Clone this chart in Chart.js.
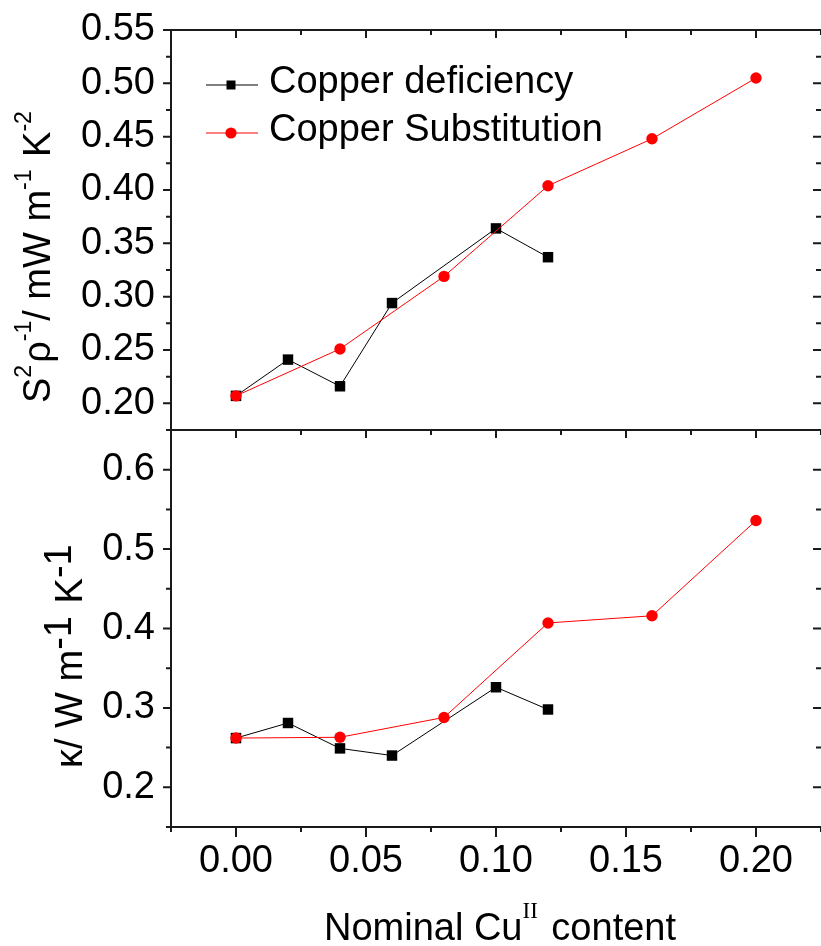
<!DOCTYPE html>
<html><head><meta charset="utf-8">
<script src="https://cdn.jsdelivr.net/npm/chart.js@4.4.1/dist/chart.umd.min.js"></script>
<style>html,body{margin:0;padding:0;background:#fff;overflow:hidden}#wrap{width:821px;height:946px;position:relative}</style>
</head><body><div id="wrap"><canvas id="c" width="821" height="946"></canvas></div>
<script>
const seriesNames = ['Copper deficiency', 'Copper Substitution'];
const deficiencyContent = [0.00, 0.02, 0.04, 0.06, 0.10, 0.12];
const substitutionContent = [0.00, 0.04, 0.08, 0.12, 0.16, 0.20];
const deficiencyPowerFactor = [0.207, 0.241, 0.216, 0.294, 0.364, 0.337];
const substitutionPowerFactor = [0.207, 0.251, 0.319, 0.404, 0.448, 0.505];
const deficiencyKappa = [0.262, 0.281, 0.249, 0.240, 0.326, 0.298];
const substitutionKappa = [0.262, 0.263, 0.288, 0.407, 0.416, 0.536];
const xTickValues = [0.00, 0.05, 0.10, 0.15, 0.20];
const pfTickValues = [0.20, 0.25, 0.30, 0.35, 0.40, 0.45, 0.50, 0.55];
const kappaTickValues = [0.2, 0.3, 0.4, 0.5, 0.6];

const FONT = '"Liberation Sans", Arial, sans-serif';
const SERIF = '"Liberation Serif", "Times New Roman", serif';
const pts = (xs, ys) => xs.map((x, i) => ({x, y: ys[i]}));

const blackStyle = {borderColor:'#000', backgroundColor:'#000', pointStyle:'rect', pointRadius:7.4, pointBorderWidth:0, borderWidth:1, order:2};
const redStyle = {borderColor:'#ff0000', backgroundColor:'#ff0000', pointStyle:'circle', pointRadius:5.7, pointBorderWidth:0, borderWidth:1, order:1};

function minorValues(arr, min, max) {
  const step = arr[1] - arr[0];
  const out = [];
  for (let v = arr[0] - step / 2; v <= arr[arr.length - 1] + step / 2 + 1e-9; v += step) {
    if (v >= min - 1e-9 && v <= max + 1e-9) out.push(v);
  }
  return out;
}

function drawRich(ctx, parts, size) {
  let x = 0;
  for (const p of parts) {
    const fs = p.size || size;
    ctx.font = fs + 'px ' + (p.serif ? SERIF : FONT);
    ctx.fillText(p.t, x, -(p.raise || 0));
    x += ctx.measureText(p.t).width + (p.gap || 0);
  }
  return x;
}
function richWidth(ctx, parts, size) {
  let w = 0;
  for (const p of parts) {
    const fs = p.size || size;
    ctx.font = fs + 'px ' + (p.serif ? SERIF : FONT);
    w += ctx.measureText(p.t).width + (p.gap || 0);
  }
  return w;
}

const decorPlugin = {
  id: 'decor',
  afterDraw(chart) {
    const {ctx, chartArea: ca, scales} = chart;
    const xs = scales.x, yt = scales.yTop, yb = scales.yBot;
    ctx.save();
    ctx.strokeStyle = '#1a1a1a';
    ctx.lineWidth = 2;
    ctx.lineCap = 'butt';
    ctx.beginPath();
    ctx.moveTo(ca.left, ca.top); ctx.lineTo(ca.right + 2, ca.top);
    ctx.moveTo(ca.left, yt.bottom); ctx.lineTo(ca.right + 2, yt.bottom);
    ctx.moveTo(ca.left, ca.top - 1); ctx.lineTo(ca.left, ca.bottom + 1);
    ctx.moveTo(ca.left - 1, ca.bottom); ctx.lineTo(ca.right + 2, ca.bottom);
    ctx.moveTo(ca.right + 1, ca.top); ctx.lineTo(ca.right + 1, ca.bottom);
    ctx.stroke();

    const xMaj = xTickValues, xMin = minorValues(xTickValues, xs.min, xs.max);
    ctx.beginPath();
    for (const v of xMaj) {
      const px = xs.getPixelForValue(v);
      ctx.moveTo(px, ca.top); ctx.lineTo(px, ca.top + 8);
      ctx.moveTo(px, yt.bottom); ctx.lineTo(px, yt.bottom + 8);
      ctx.moveTo(px, ca.bottom); ctx.lineTo(px, ca.bottom + 10);
    }
    for (const v of xMin) {
      const px = xs.getPixelForValue(v);
      ctx.moveTo(px, ca.top); ctx.lineTo(px, ca.top + 5);
      ctx.moveTo(px, yt.bottom); ctx.lineTo(px, yt.bottom + 5);
      ctx.moveTo(px, ca.bottom); ctx.lineTo(px, ca.bottom + 5);
    }
    const panels = [[yt, pfTickValues], [yb, kappaTickValues]];
    for (const [sc, maj] of panels) {
      for (const v of maj) {
        const py = sc.getPixelForValue(v);
        ctx.moveTo(ca.left - 8, py); ctx.lineTo(ca.left, py);
        ctx.moveTo(ca.right - 8, py); ctx.lineTo(ca.right, py);
      }
      for (const v of minorValues(maj, sc.min, sc.max)) {
        const py = sc.getPixelForValue(v);
        ctx.moveTo(ca.left - 5, py); ctx.lineTo(ca.left, py);
        ctx.moveTo(ca.right - 5, py); ctx.lineTo(ca.right, py);
      }
    }
    ctx.stroke();

    // legend
    ctx.fillStyle = '#000';
    ctx.textBaseline = 'alphabetic';
    const legendRows = [
      {name: seriesNames[0], style: blackStyle, y: 85, ty: 93},
      {name: seriesNames[1], style: redStyle, y: 133, ty: 141}
    ];
    for (const r of legendRows) {
      ctx.strokeStyle = r.style.borderColor;
      ctx.lineWidth = 1;
      ctx.beginPath(); ctx.moveTo(206, r.y); ctx.lineTo(258, r.y); ctx.stroke();
      ctx.fillStyle = r.style.backgroundColor;
      if (r.style.pointStyle === 'rect') { ctx.fillRect(231 - 4.5, r.y - 4.5, 9, 9); }
      else { ctx.beginPath(); ctx.arc(231, r.y, 5.6, 0, Math.PI * 2); ctx.fill(); }
      ctx.fillStyle = '#000';
      ctx.font = '38px ' + FONT;
      ctx.textAlign = 'left';
      ctx.fillText(r.name, 269, r.ty);
    }

    // x title
    const xParts = [{t:'Nominal Cu'}, {t:'II', serif:true, size:23, raise:22, gap:3}, {t:' content'}];
    const xw = richWidth(ctx, xParts, 38);
    ctx.save();
    ctx.translate(500 - xw / 2, 940);
    drawRich(ctx, xParts, 38);
    ctx.restore();

    // top y title
    const s = 23;
    const tParts = [{t:'S'}, {t:'2', size:s, raise:19, gap:2}, {t:'\u03C1'}, {t:'-1', size:s, raise:19}, {t:'/ mW m'}, {t:'-1', size:s, raise:19, gap:2}, {t:' K'}, {t:'-2', size:s, raise:19}];
    ctx.save();
    ctx.translate(50, 403);
    ctx.rotate(-Math.PI / 2);
    drawRich(ctx, tParts, 38);
    ctx.restore();

    // bottom y title
    const bParts = [{t:'\u03BA/ W m'}, {t:'-1', raise:11, gap:2}, {t:' K'}, {t:'-1', raise:11}];
    ctx.save();
    ctx.translate(82, 768);
    ctx.rotate(-Math.PI / 2);
    drawRich(ctx, bParts, 38);
    ctx.restore();
    ctx.restore();
  }
};

function zeroPad(sc) { sc.paddingTop = 0; sc.paddingBottom = 0; sc.paddingLeft = 0; sc.paddingRight = 0; }

const yCommon = (ticksArr, digits) => ({
  type: 'linear', position: 'left', stack: 'panels',
  afterBuildTicks: sc => { sc.ticks = ticksArr.map(v => ({value: v})); },
  afterFit: sc => { sc.width = 171; zeroPad(sc); },
  grid: {display: false, drawTicks: false, tickLength: 0},
  border: {display: false},
  ticks: {font: {family: FONT, size: 38}, color: '#000', padding: 16, autoSkip: false, callback: v => Number(v).toFixed(digits)}
});

new Chart(document.getElementById('c'), {
  type: 'scatter',
  data: {
    datasets: [
      Object.assign({label: seriesNames[0], data: pts(deficiencyContent, deficiencyPowerFactor), yAxisID: 'yTop', showLine: true}, blackStyle),
      Object.assign({label: seriesNames[1], data: pts(substitutionContent, substitutionPowerFactor), yAxisID: 'yTop', showLine: true}, redStyle),
      Object.assign({label: seriesNames[0], data: pts(deficiencyContent, deficiencyKappa), yAxisID: 'yBot', showLine: true}, blackStyle),
      Object.assign({label: seriesNames[1], data: pts(substitutionContent, substitutionKappa), yAxisID: 'yBot', showLine: true}, redStyle)
    ]
  },
  options: {
    responsive: false, animation: false, devicePixelRatio: 1,
    layout: {autoPadding: false, padding: {top: 30, right: 0, left: 0, bottom: 0}},
    plugins: {legend: {display: false}, tooltip: {enabled: false}},
    elements: {line: {tension: 0}},
    scales: {
      x: {
        type: 'linear', position: 'bottom', min: -0.025, max: 0.225,
        afterBuildTicks: sc => { sc.ticks = xTickValues.map(v => ({value: v})); },
        afterFit: sc => { sc.height = 119; zeroPad(sc); },
        grid: {display: false, drawTicks: false, tickLength: 0},
        border: {display: false},
        ticks: {font: {family: FONT, size: 38}, color: '#000', padding: 12, maxRotation: 0, autoSkip: false, callback: v => Number(v).toFixed(2)}
      },
      yBot: Object.assign(yCommon(kappaTickValues, 1), {min: 0.15, max: 0.65, stackWeight: 397}),
      yTop: Object.assign(yCommon(pfTickValues, 2), {min: 0.175, max: 0.55, stackWeight: 400})
    }
  },
  plugins: [decorPlugin]
});
</script></body></html>
